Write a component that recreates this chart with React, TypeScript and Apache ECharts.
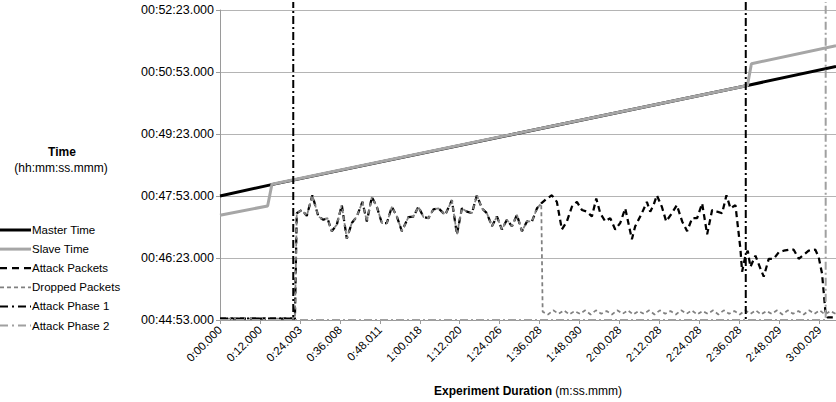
import React, { useEffect, useRef } from "react";
import * as echarts from "echarts";

// X axis tick labels (every 12 s of experiment time)
const X_TICK_LABELS = [
  "0:00.000", "0:12.000", "0:24.003", "0:36.008", "0:48.011", "1:00.018",
  "1:12.020", "1:24.026", "1:36.028", "1:48.030", "2:00.028", "2:12.028",
  "2:24.028", "2:36.028", "2:48.029", "3:00.029",
];

// Y values are seconds after 00:44:53.000
const Y_BASE_SECONDS = 44 * 60 + 53;

// [experiment seconds, seconds after 00:44:53]
const MASTER_TIME: [number, number][] = [
  [0, 180], [15.5, 196.5], [158.4, 340.5], [185, 368],
];

const SLAVE_TIME: [number, number][] = [
  [0, 152], [14.3, 165.5], [15.6, 197], [158.4, 340.5], [159.6, 372], [185, 398],
];

const SHARED_PACKETS: [number, number][] = [
  [0, 2], [22.5, 2], [23.05, 155], [24.56, 159.7], [26.06, 151.2], [27.74, 181],
  [29.55, 150.2], [31.05, 145.5], [32.25, 147.9], [33.57, 128.9], [35.08, 138.4],
  [36.58, 166.8], [38.08, 118.2], [39.59, 140.8], [41.09, 150.2], [42.77, 171.5],
  [44.1, 143.1], [45.6, 178.5], [47.1, 164.4], [48.6, 140.8], [50.11, 140.8],
  [51.61, 164.4], [53.11, 150.2], [54.62, 128.9], [56.6, 149.4], [58.1, 150.2],
  [59.6, 164.4], [61.11, 149.4], [62.61, 147.9], [64.11, 160.7], [65.62, 162.1],
  [67.63, 152.6], [69.64, 173.9], [71.15, 124.3], [72.65, 162.1], [74.15, 157.3],
  [75.65, 155], [77.16, 181], [78.66, 162.1], [80.16, 155], [81.67, 136],
  [83.17, 150.2], [84.67, 131.4], [86.17, 145.5], [87.68, 136], [89.18, 152.6],
  [90.68, 128.9], [92.19, 143.1], [93.69, 143.1], [95.19, 162.1], [96.48, 169.2],
];

const ATTACK_TAIL: [number, number][] = [
  [98.1, 176], [99.67, 181], [101.17, 171.5], [102.68, 131.4], [104.18, 143.1],
  [105.68, 164.4], [107.19, 171.5], [108.69, 159.7], [110.19, 157.3], [111.69, 150.2],
  [113.0, 176.3], [114.2, 155], [115.7, 143.1], [117.2, 147.9], [118.7, 131.4],
  [120.2, 140.8], [121.7, 162.1], [123.7, 117.2], [124.7, 136], [126.7, 155],
  [128.2, 171.5], [129.2, 157.3], [130.2, 166.8], [131.2, 181], [132.7, 164.4],
  [134.0, 143.1], [135.7, 155], [137.2, 166.8], [138.8, 143.1], [140.3, 128.9],
  [141.8, 147.9], [143.3, 147.9], [144.8, 169.2], [146.3, 124.3], [147.8, 159.7],
  [149.3, 157.3], [150.8, 155], [152.1, 181], [153.3, 162.1], [154.8, 166.8],
  [156.3, 103], [156.8, 70], [157.8, 93.5], [158.5, 100.6], [159.3, 77.1],
  [160.8, 93.5], [162.3, 74.7], [163.3, 62.9], [164.8, 88.8], [166.3, 88.8],
  [167.8, 98.3], [169.3, 100.6], [170.8, 102], [172.3, 102], [173.8, 88.8],
  [175.3, 94.5], [176.8, 100.6], [178.8, 102], [179.8, 91.3], [180.8, 67.6],
  [181.8, 13.7], [182.4, 3.8], [185, 3.8],
];

const DROPPED_TAIL: [number, number][] = [
  [96.9, 12], [98.5, 8], [100.1, 14], [101.7, 9], [103.3, 14], [104.9, 8],
  [106.5, 13], [108.1, 9], [109.7, 14], [111.3, 8], [112.9, 14], [114.5, 9],
  [116.1, 13], [117.7, 8], [119.3, 14], [120.9, 9], [122.5, 14], [124.1, 8],
  [125.7, 13], [127.3, 9], [128.9, 14], [130.5, 8], [132.1, 14], [133.7, 9],
  [135.3, 13], [136.9, 8], [138.5, 14], [140.1, 9], [141.7, 14], [143.3, 8],
  [144.9, 13], [146.5, 9], [148.1, 14], [149.7, 8], [151.3, 14], [152.9, 9],
  [154.5, 13], [156.1, 8], [157.7, 14], [159.3, 9], [160.9, 14], [162.5, 8],
  [164.1, 13], [165.7, 9], [167.3, 14], [168.9, 8], [170.5, 14], [172.1, 9],
  [173.7, 13], [175.3, 8], [176.9, 14], [178.5, 9], [180.1, 14], [181.7, 8],
  [183.3, 13], [184.9, 9],
];

// Attack phase markers (null = line break; 461.5 reaches just above the plot)
const ATTACK_PHASE_1: [number, number | null][] = [
  [0, 2], [22.0, 2], [22.0, 461.5], [90, null], [157.9, 461.5], [157.9, 0],
];
const ATTACK_PHASE_2: [number, number | null][] = [
  [0, 0], [181.9, 0], [181.9, 461.5],
];

const SERIES_NAMES = [
  "Master Time", "Slave Time", "Attack Packets",
  "Dropped Packets", "Attack Phase 1", "Attack Phase 2",
];
const SERIES_COLORS = ["#000000", "#a6a6a6", "#000000", "#808080", "#000000", "#a0a0a0"];

const FONT = "Liberation Sans, Arial, Helvetica, sans-serif";

function fmtTime(v: number): string {
  const total = Math.round(Y_BASE_SECONDS + v);
  const m = Math.floor(total / 60);
  const s = total % 60;
  const p = (n: number) => String(n).padStart(2, "0");
  return `00:${p(m)}:${p(s)}.000`;
}

export default function App() {
  const ref = useRef<HTMLDivElement>(null);

  useEffect(() => {
    document.body.style.margin = "0";
    if (!ref.current) return;
    const chart = echarts.init(ref.current, undefined, { renderer: "svg" });

    const lineStyles: any[] = [
      { width: 3, dash: null },
      { width: 3, dash: null },
      { width: 2.25, dash: [7, 5] },
      { width: 1.75, dash: [4, 3] },
      { width: 2, dash: [8, 4, 2, 4] },
      { width: 2, dash: [8, 4, 2, 4] },
    ];

    const legendY0 = 230;
    const legendStep = 19.1;
    const legendGraphics: any[] = [];
    SERIES_NAMES.forEach((name, i) => {
      const y = legendY0 + i * legendStep;
      const ls = lineStyles[i];
      legendGraphics.push({
        type: "line",
        shape: { x1: 0, y1: y, x2: 31, y2: y },
        style: {
          stroke: SERIES_COLORS[i],
          lineWidth: ls.width,
          lineDash: ls.dash || undefined,
        },
      });
      legendGraphics.push({
        type: "text",
        x: 32,
        y: y,
        style: {
          text: name,
          font: `11.5px ${FONT}`,
          fill: "#000",
          align: "left",
          verticalAlign: "middle",
          textAlign: "left",
          textVerticalAlign: "middle",
        },
      });
    });

    const option: any = {
      animation: false,
      backgroundColor: "#ffffff",
      textStyle: { fontFamily: FONT },
      grid: { left: 220, right: 0, top: 10, bottom: 74, containLabel: false },
      legend: { show: false },
      graphic: [
        {
          type: "text",
          x: 62,
          y: 152,
          style: {
            text: "Time",
            font: `bold 12px ${FONT}`,
            fill: "#000",
            align: "center",
            verticalAlign: "middle",
            textAlign: "center",
            textVerticalAlign: "middle",
          },
        },
        {
          type: "text",
          x: 61,
          y: 168,
          style: {
            text: "(hh:mm:ss.mmm)",
            font: `12px ${FONT}`,
            fill: "#000",
            align: "center",
            verticalAlign: "middle",
            textAlign: "center",
            textVerticalAlign: "middle",
          },
        },
        ...legendGraphics,
      ],
      xAxis: {
        type: "value",
        min: 0,
        max: 185,
        interval: 12,
        name: "{b|Experiment Duration} {n|(m:ss.mmm)}",
        nameLocation: "middle",
        nameGap: 65,
        nameTextStyle: {
          rich: {
            b: { fontFamily: FONT, fontSize: 12, fontWeight: "bold", color: "#000" },
            n: { fontFamily: FONT, fontSize: 12, color: "#000" },
          },
        },
        axisLine: { show: true, lineStyle: { color: "#9a9a9a", width: 1 } },
        axisTick: { show: true, length: 4, lineStyle: { color: "#9a9a9a" } },
        splitLine: { show: false },
        axisLabel: {
          rotate: 45,
          margin: 8,
          fontFamily: FONT,
          fontSize: 11.5,
          color: "#000",
          showMaxLabel: false,
          formatter: (v: number) => {
            const i = Math.round(v / 12);
            return Math.abs(i * 12 - v) < 1e-6 && X_TICK_LABELS[i] ? X_TICK_LABELS[i] : "";
          },
        },
      },
      yAxis: {
        type: "value",
        min: 0,
        max: 450,
        interval: 90,
        axisLine: { show: true, lineStyle: { color: "#9a9a9a", width: 1 } },
        axisTick: { show: true, length: 4, lineStyle: { color: "#9a9a9a" } },
        splitLine: { show: true, lineStyle: { color: "#b4b4b4", width: 1 } },
        axisLabel: {
          margin: 6,
          fontFamily: FONT,
          fontSize: 12.5,
          color: "#000",
          formatter: (v: number) => fmtTime(v),
        },
      },
      series: [
        {
          name: SERIES_NAMES[0],
          type: "line",
          data: MASTER_TIME,
          symbol: "none",
          lineStyle: { color: SERIES_COLORS[0], width: 3 },
        },
        {
          name: SERIES_NAMES[1],
          type: "line",
          data: SLAVE_TIME,
          symbol: "none",
          lineStyle: { color: SERIES_COLORS[1], width: 3 },
        },
        {
          name: SERIES_NAMES[2],
          type: "line",
          data: [...SHARED_PACKETS, ...ATTACK_TAIL],
          symbol: "none",
          lineStyle: { color: SERIES_COLORS[2], width: 2.25, type: [6, 4] },
        },
        {
          name: SERIES_NAMES[3],
          type: "line",
          data: [...SHARED_PACKETS, ...DROPPED_TAIL],
          symbol: "none",
          lineStyle: { color: SERIES_COLORS[3], width: 1.75, type: [4, 3] },
        },
        {
          name: SERIES_NAMES[4],
          type: "line",
          data: ATTACK_PHASE_1,
          symbol: "none",
          clip: false,
          connectNulls: false,
          lineStyle: { color: SERIES_COLORS[4], width: 2, type: [8, 3, 2, 3] },
        },
        {
          name: SERIES_NAMES[5],
          type: "line",
          data: ATTACK_PHASE_2,
          symbol: "none",
          clip: false,
          lineStyle: { color: SERIES_COLORS[5], width: 2, type: [8, 3, 2, 3] },
        },
      ],
    };

    chart.setOption(option);
    return () => chart.dispose();
  }, []);

  return <div ref={ref} style={{ width: 836, height: 402 }} />;
}
